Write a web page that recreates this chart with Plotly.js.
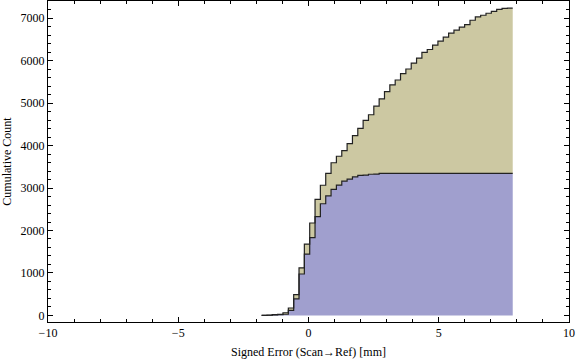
<!DOCTYPE html>
<html>
<head>
<meta charset="utf-8">
<script src="https://cdn.plot.ly/plotly-3.0.1.min.js"></script>
<style>html,body{margin:0;padding:0;background:#fff;}#chart{width:576px;height:362px;}</style>
</head>
<body>
<div id="chart"></div>
<script>
// Bin edges (mm) of the cumulative histogram
const binEdges = [-1.800,-1.595,-1.390,-1.185,-0.980,-0.774,-0.569,-0.364,-0.159,0.046,
  0.251,0.456,0.661,0.866,1.071,1.277,1.482,1.687,1.892,2.097,
  2.302,2.507,2.712,2.917,3.122,3.328,3.533,3.738,3.943,4.148,
  4.353,4.558,4.763,4.968,5.173,5.379,5.584,5.789,5.994,6.199,
  6.404,6.609,6.814,7.019,7.224,7.430,7.635,7.840];
// Cumulative counts, lower (blue) series
const lowerCum = [2,4,15,20,28,117,390,976,1445,1830,
  2327,2630,2815,2969,3070,3165,3210,3265,3300,3305,
  3325,3328,3343,3343,3343,3343,3343,3343,3343,3343,
  3343,3343,3343,3343,3343,3343,3343,3343,3343,3343,
  3343,3343,3343,3343,3343,3343,3343];
// Cumulative counts, stacked total (tan top)
const totalCum = [3,5,18,25,63,175,488,1120,1680,2176,
  2734,3066,3343,3596,3749,3880,4046,4234,4405,4592,
  4726,4928,5101,5272,5428,5545,5694,5804,5944,6061,
  6193,6263,6366,6460,6553,6647,6717,6788,6849,6952,
  7030,7069,7116,7163,7210,7230,7236];
const xTicks = [-10,-5,0,5,10];
const xTickText = ['\u221210','\u22125','0','5','10'];
const yTicks = [0,1000,2000,3000,4000,5000,6000,7000];
const yTickText = ['0','1000','2000','3000','4000','5000','6000','7000'];

const lowY = lowerCum.concat([lowerCum[lowerCum.length-1]]);
const totY = totalCum.concat([totalCum[totalCum.length-1]]);

const lineStyle = {color:'#222', width:1.2, shape:'hv'};
const traces = [
  {x: binEdges, y: lowY, type:'scatter', mode:'lines', line: lineStyle,
   fill:'tozeroy', fillcolor:'rgb(160,159,206)', hoverinfo:'skip'},
  {x: binEdges, y: totY, type:'scatter', mode:'lines', line: lineStyle,
   fill:'tonexty', fillcolor:'rgb(204,200,162)', hoverinfo:'skip'}
];
const tickFont = {family:'Liberation Serif, Times New Roman, serif', size:12, color:'#000'};
const layout = {
  width:576, height:362,
  margin:{l:48, r:7, t:1, b:40},
  paper_bgcolor:'#fff', plot_bgcolor:'#fff',
  showlegend:false,
  xaxis:{
    range:[-10,10], tickvals:xTicks, ticktext:xTickText,
    ticks:'inside', ticklen:5, tickwidth:1, tickcolor:'#000',
    minor:{dtick:1, ticks:'inside', ticklen:3, tickcolor:'#000', tickwidth:1},
    showline:true, linecolor:'#000', linewidth:1, mirror:'allticks',
    showgrid:false, zeroline:false, tickfont:tickFont,
    title:{text:'Signed Error (Scan\u2192Ref) [mm]', font:tickFont, standoff:8}
  },
  yaxis:{
    range:[-155,7405], tickvals:yTicks, ticktext:yTickText,
    ticks:'inside', ticklen:5, tickwidth:1, tickcolor:'#000',
    minor:{dtick:200, ticks:'inside', ticklen:3, tickcolor:'#000', tickwidth:1},
    showline:true, linecolor:'#000', linewidth:1, mirror:'allticks',
    showgrid:false, zeroline:false, tickfont:tickFont,
    title:{text:'Cumulative Count', font:tickFont, standoff:6}
  }
};
Plotly.newPlot('chart', traces, layout, {displayModeBar:false, staticPlot:true});
</script>
</body>
</html>
